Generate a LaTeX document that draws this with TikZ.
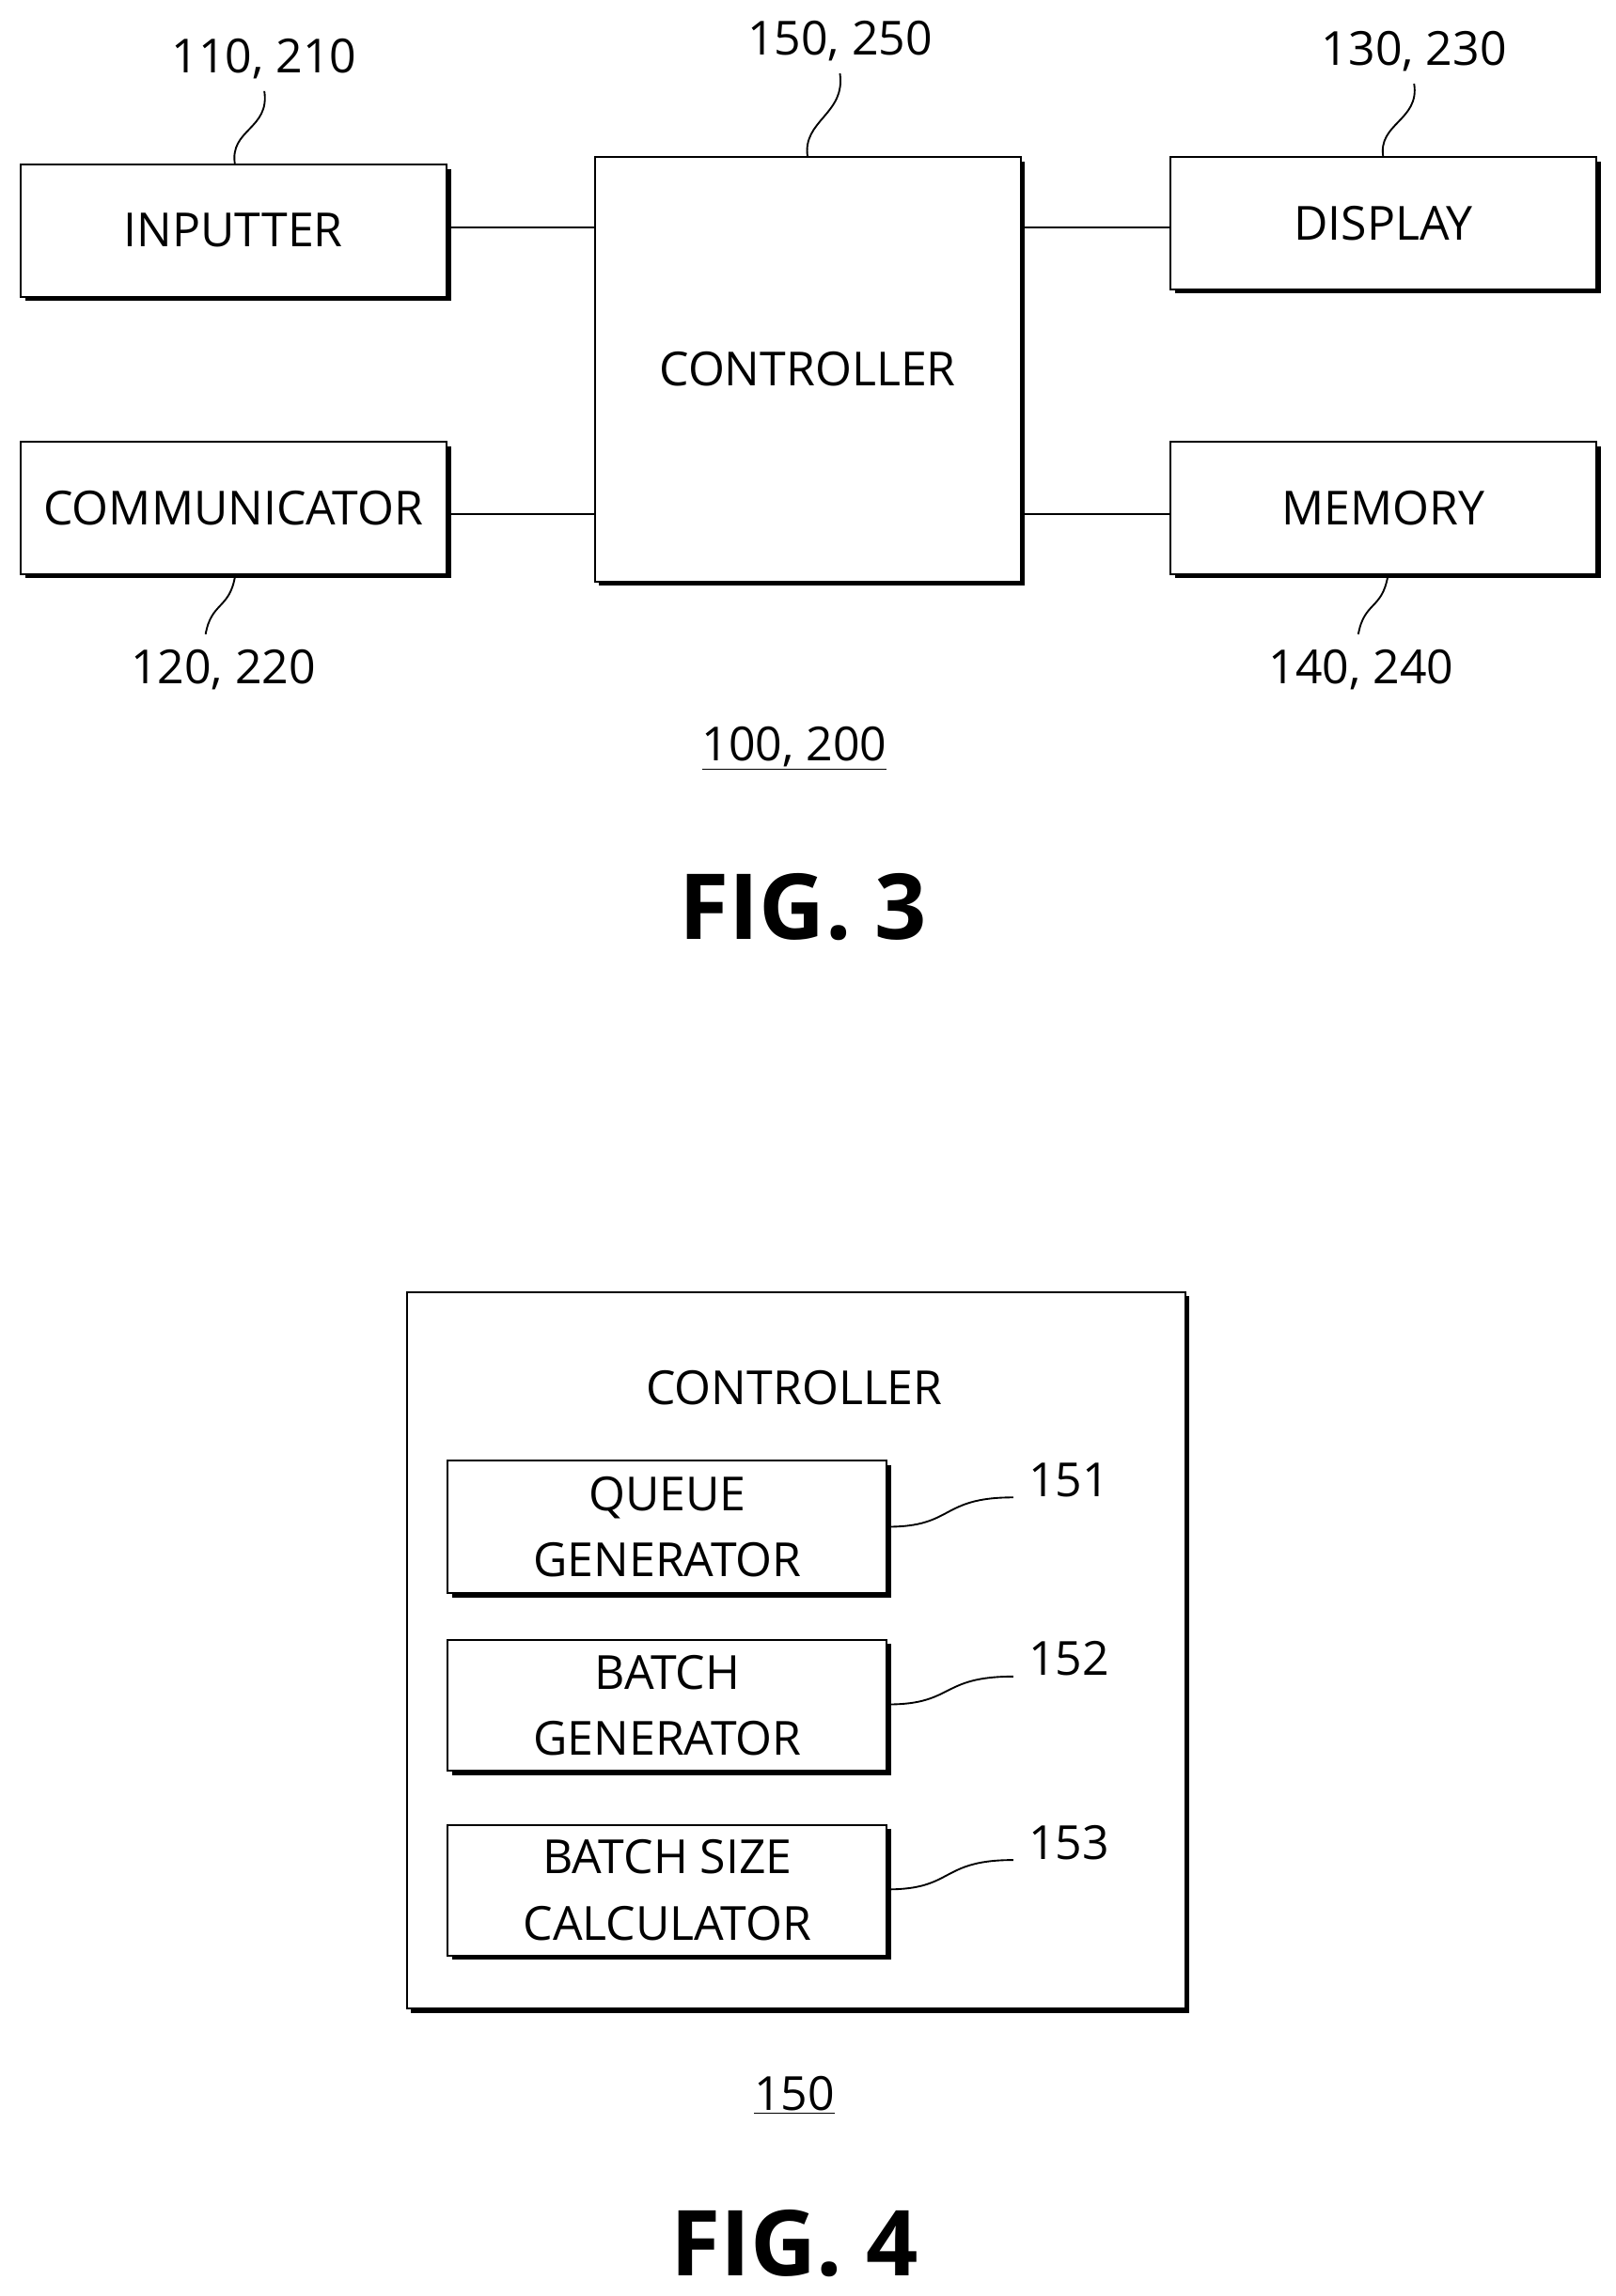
\documentclass[tikz,border=0pt]{standalone}
\usepackage{fontspec}
\setmainfont{Open Sans}
\usetikzlibrary{shadows}
\begin{document}
\begin{tikzpicture}[x=1pt,y=-1pt,
 box/.style={draw,line width=1.3pt,fill=white,inner sep=0pt,drop shadow={shadow xshift=3pt,shadow yshift=-3pt,opacity=1,fill=black}},
 txt/.style={font=\fontsize{32}{45}\selectfont},
 lab/.style={font=\fontsize{32}{45}\selectfont},
 lead/.style={line width=1.2pt},
 wire/.style={line width=1.2pt}]
\useasboundingbox (0,0) rectangle (1100,1564);
% FIG 3
\node[box,minimum width=290pt,minimum height=90pt,txt] (inp) at (159,157) {INPUTTER};
\node[box,minimum width=290pt,minimum height=90pt,txt] (com) at (159,346) {COMMUNICATOR};
\node[box,minimum width=290pt,minimum height=289pt,txt] (ctl) at (550,251.5) {CONTROLLER};
\node[box,minimum width=290pt,minimum height=90pt,txt] (dis) at (942,152) {DISPLAY};
\node[box,minimum width=290pt,minimum height=90pt,txt] (mem) at (942,346) {MEMORY};
\draw[wire] (inp.east |- 0,155) -- (ctl.west |- 0,155);
\draw[wire] (com.east |- 0,350) -- (ctl.west |- 0,350);
\draw[wire] (ctl.east |- 0,155) -- (dis.west |- 0,155);
\draw[wire] (ctl.east |- 0,350) -- (mem.west |- 0,350);
\node[lab] (l110) at (180,40) {110, 210};
\node[lab] (l150) at (572,28) {150, 250};
\node[lab] (l130) at (963,35) {130, 230};
\node[lab] (l120) at (152,456) {120, 220};
\node[lab] (l140) at (927,456) {140, 240};
\draw[lead] (160,112) .. controls (156,88) and (184,88) .. (180,62);
\draw[lead] (550,107) .. controls (546,82) and (576,78) .. (572,50);
\draw[lead] (942,107) .. controls (938,84) and (967,82) .. (963,57);
\draw[lead] (160,393) .. controls (156,415) and (144,410) .. (140,432);
\draw[lead] (945,393) .. controls (941,415) and (929,410) .. (925,432);
\node[lab] (n100) at (541,510) {\underline{100, 200}};
\node[font=\fontsize{62}{66}\selectfont\bfseries] (f3) at (547,618) {FIG. 3};
% FIG 4
\node[box,minimum width=530pt,minimum height=488pt] (outer) at (542,1124) {};
\node[txt] (c4) at (541,945) {CONTROLLER};
\node[box,minimum width=299pt,minimum height=90pt,txt,align=center] (q) at (454.5,1040) {QUEUE\\GENERATOR};
\node[box,minimum width=299pt,minimum height=89pt,txt,align=center] (b) at (454.5,1161.5) {BATCH\\GENERATOR};
\node[box,minimum width=299pt,minimum height=89pt,txt,align=center] (s) at (454.5,1287.5) {BATCH SIZE\\CALCULATOR};
\node[lab] (l151) at (728,1008) {151};
\node[lab] (l152) at (728,1130) {152};
\node[lab] (l153) at (728,1255) {153};
\draw[lead] (q.east) .. controls (650,1040) and (640,1020) .. (690,1020);
\draw[lead] (b.east |- 0,1161) .. controls (650,1161) and (640,1142) .. (690,1142);
\draw[lead] (s.east |- 0,1287) .. controls (650,1287) and (640,1267) .. (690,1267);
\node[lab] (n150) at (541,1427) {\underline{150}};
\node[font=\fontsize{62}{66}\selectfont\bfseries] (f4) at (541,1528) {FIG. 4};
\end{tikzpicture}
\end{document}
